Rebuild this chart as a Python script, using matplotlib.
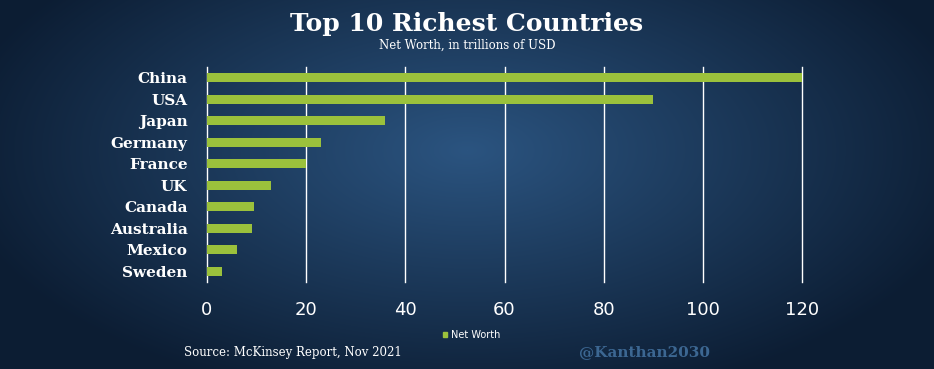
import numpy as np
import matplotlib
matplotlib.use("Agg")
import matplotlib.pyplot as plt
from matplotlib.patches import Patch

countries = ["China", "USA", "Japan", "Germany", "France", "UK",
             "Canada", "Australia", "Mexico", "Sweden"]
net_worth = [120, 90, 36, 23, 20, 13, 9.5, 9, 6, 3]
xticks = [0, 20, 40, 60, 80, 100, 120]

bar_color = "#9bc13c"

fig = plt.figure(figsize=(9.34, 3.69), dpi=100)

# background: dark blue radial gradient
bg = fig.add_axes([0, 0, 1, 1], zorder=-10)
yy, xx = np.mgrid[0:369, 0:934]
r = np.sqrt(((xx - 467) / 520.0) ** 2 + ((yy - 150) / 260.0) ** 2)
r = np.clip(r, 0, 1)
c_in = np.array([0x2b, 0x54, 0x80]) / 255
c_out = np.array([0x0c, 0x1d, 0x33]) / 255
img = c_in[None, None, :] * (1 - r[..., None]) + c_out[None, None, :] * r[..., None]
bg.imshow(img, aspect="auto", extent=[0, 1, 0, 1])
bg.axis("off")

ax = fig.add_axes([0.2216, 0.2358, 0.6371, 0.5827])
ax.patch.set_alpha(0)
y = np.arange(len(countries))
ax.barh(y, net_worth, height=0.4, color=bar_color, zorder=3, label="Net Worth")
ax.set_xlim(0, 120)
ax.set_ylim(len(countries) - 0.5, -0.5)
ax.set_xticks(xticks)
ax.xaxis.grid(True, color="white", linewidth=1.0, zorder=0)
for gl in ax.get_xgridlines():
    gl.set_clip_on(False)
ax.set_yticks(y)
ax.set_yticklabels(countries, fontsize=11, fontweight="bold",
                   family="DejaVu Serif", color="white")
ax.tick_params(axis="x", colors="white", labelsize=13, length=0, pad=14)
ax.tick_params(axis="y", length=0, pad=14)
for s in ax.spines.values():
    s.set_visible(False)

fig.text(0.5, 0.935, "Top 10 Richest Countries", ha="center", va="center",
         color="white", fontsize=18, fontweight="bold", family="DejaVu Serif")
fig.text(0.5, 0.878, "Net Worth, in trillions of USD", ha="center", va="center",
         color="white", fontsize=8.5, family="DejaVu Serif")

fig.legend(handles=[Patch(color=bar_color, label="Net Worth")],
           loc="center", bbox_to_anchor=(0.505, 0.092), frameon=False,
           fontsize=7, labelcolor="white", handlelength=0.5, handleheight=0.5,
           handletextpad=0.4)

fig.text(0.197, 0.045, "Source: McKinsey Report, Nov 2021", ha="left", va="center",
         color="white", fontsize=8.5, family="DejaVu Serif")
fig.text(0.69, 0.045, "@Kanthan2030", ha="center", va="center",
         color="#3c6792", fontsize=11, fontweight="bold", family="DejaVu Serif")

fig.savefig("out.png", dpi=100)
